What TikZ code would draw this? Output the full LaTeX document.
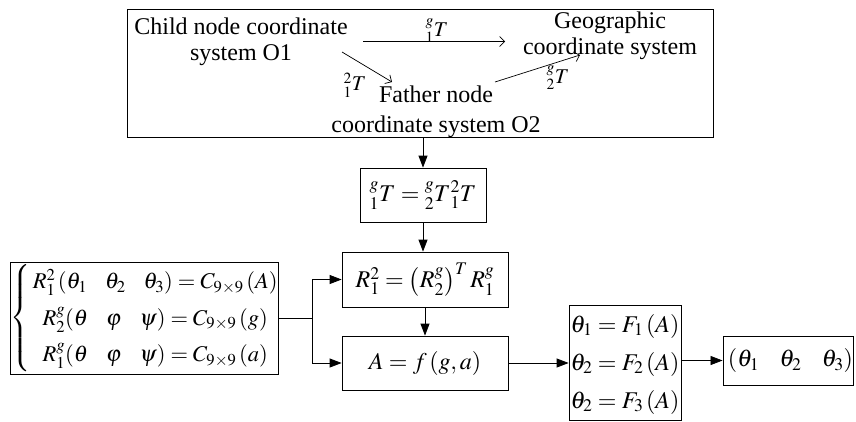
\documentclass[tikz,border=0pt]{standalone}
\usepackage{mathptmx}
\usepackage[no-math]{fontspec}
\setmainfont{Liberation Serif}
\usetikzlibrary{arrows.meta}
\begin{document}
\begin{tikzpicture}[x=1pt,y=-1pt,
  font=\fontsize{24}{26}\selectfont,
  box/.style={draw, line width=0.8pt, inner sep=0pt},
  fl/.style={-{Triangle[length=12pt,width=9pt]}, line width=0.8pt},
  ol/.style={-{Straight Barb[length=5pt,width=10pt]}, line width=0.7pt},
  lbl/.style={font=\fontsize{21}{22}\selectfont, inner sep=0pt}]
\useasboundingbox (0,0) rectangle (856,421);
% top box
\node[box, minimum width=586pt, minimum height=128pt] (top) at (420,73) {};
\node[align=center] (child) at (241,42) {Child node coordinate\\system O1};
\node[align=center] (geo) at (610,36) {Geographic\\coordinate system};
\node[align=center, font=\fontsize{24}{30}\selectfont] (father) at (436,112) {Father node\\coordinate system O2};
\coordinate (a1s) at (363,41.5);
\coordinate (a1e) at (505,41.5);
\coordinate (a2s) at (342,52);
\coordinate (a2e) at (392,82);
\coordinate (a3s) at (495,82);
\coordinate (a3e) at (580,55);
\draw[ol] (a1s) -- (a1e);
\draw[ol] (a2s) -- (a2e);
\draw[ol] (a3s) -- (a3e);
\node[lbl] (l1) at (437,31) {${}^{g}_{1}T$};
\node[lbl] (l2) at (355,85) {${}^{2}_{1}T$};
\node[lbl] (l3) at (558,78) {${}^{g}_{2}T$};
% lower boxes
\node[box, minimum width=126pt, minimum height=54pt] (b2) at (423,195) {${}^{g}_{1}T={}^{g}_{2}T{}^{2}_{1}T$};
\node[box, minimum width=166pt, minimum height=55pt] (b3) at (425,279.5) {$R_1^2=\left(R_2^g\right)^T R_1^g$};
\node[box, minimum width=166pt, minimum height=54pt] (b4) at (425,363) {$A=f\left(g,a\right)$};
\node[box, minimum width=112pt, minimum height=115pt] (b5) at (625,362.5)
  {\renewcommand{\arraystretch}{1.46}$\begin{array}{@{}l@{}}
   \theta_1=F_1\left(A\right)\\ \theta_2=F_2\left(A\right)\\ \theta_2=F_3\left(A\right)
   \end{array}$};
\node[box, minimum width=128pt, minimum height=49pt] (b6) at (788,360.5) {\hspace{5pt}$\left(\theta_1\hspace{0.85em}\theta_2\hspace{0.85em}\theta_3\right)$};
\node[box, minimum width=267pt, minimum height=112pt, font=\fontsize{22.5}{26}\selectfont] (left) at (144.5,318)
  {\renewcommand{\arraystretch}{1.4}$\left\{\,\begin{array}{@{}c@{}}
   R_1^2\left(\theta_1\hspace{0.8em}\theta_2\hspace{0.8em}\theta_3\right)=C_{9\times9}\left(A\right)\\
   R_2^g(\theta\hspace{0.8em}\varphi\hspace{0.8em}\psi)=C_{9\times9}\left(g\right)\\
   R_1^g(\theta\hspace{0.8em}\varphi\hspace{0.8em}\psi)=C_{9\times9}\left(a\right)
   \end{array}\right.$};
% connectors
\draw[fl] (b2.north |- top.south) -- (b2.north);
\draw[fl] (b2.south) -- (b2.south |- b3.north);
\draw[fl] (b3.south) -- (b4.north);
\coordinate (j) at (312,318);
\draw[fl] (left.east) -- (j) |- (b3.west);
\draw[fl] (j) |- (b4.west);
\draw[fl] (b4.east) -- (b5.west |- b4.east);
\draw[fl] (b5.east |- b6.west) -- (b6.west);
\end{tikzpicture}
\end{document}
